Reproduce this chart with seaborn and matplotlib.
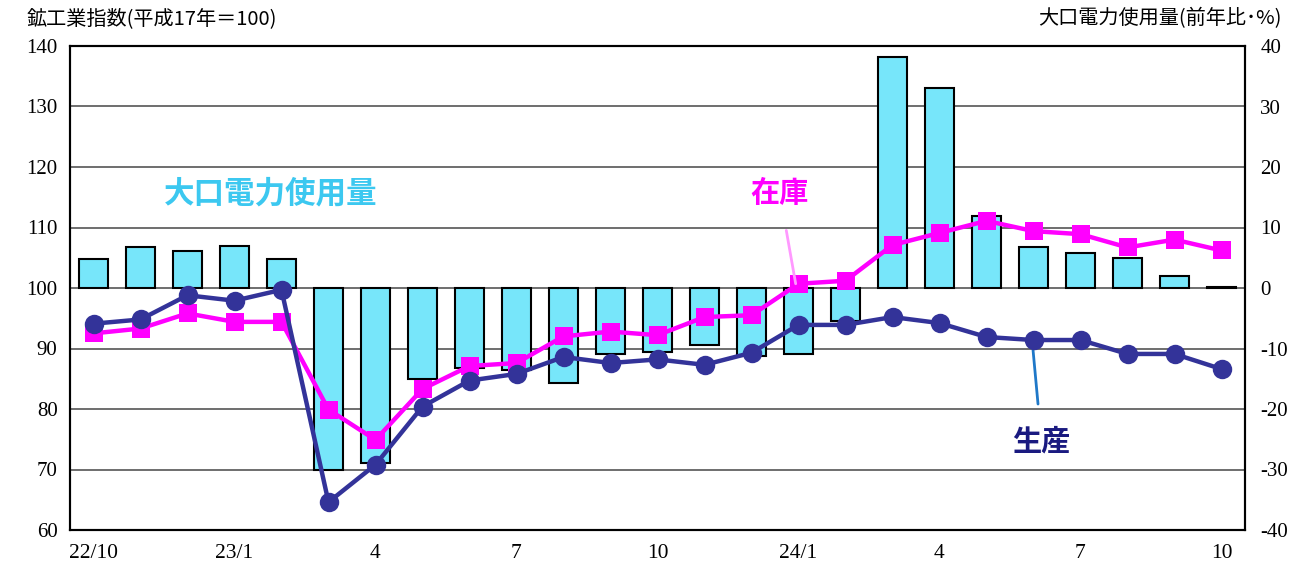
import matplotlib
matplotlib.use("Agg")
import matplotlib.pyplot as plt
import seaborn as sns
import pandas as pd
import numpy as np

months = ["22/10", "22/11", "22/12", "23/1", "23/2", "23/3", "23/4", "23/5", "23/6",
          "23/7", "23/8", "23/9", "23/10", "23/11", "23/12", "24/1", "24/2", "24/3",
          "24/4", "24/5", "24/6", "24/7", "24/8", "24/9", "24/10"]
tick_labels = ["22/10", "", "", "23/1", "", "", "4", "", "", "7", "", "", "10", "", "",
               "24/1", "", "", "4", "", "", "7", "", "", "10"]
electricity = [4.8, 6.8, 6.1, 6.9, 4.8, -30.1, -29.0, -15.1, -13.2, -13.6, -15.7, -10.9,
               -10.5, -9.4, -11.2, -10.9, -5.5, 38.1, 33.0, 11.9, 6.8, 5.8, 5.0, 2.0, 0.2]
production = [94.1, 94.8, 98.8, 97.9, 99.7, 64.6, 70.8, 80.4, 84.7, 85.8, 88.6, 87.6,
              88.2, 87.3, 89.3, 93.9, 93.9, 95.2, 94.2, 91.9, 91.4, 91.4, 89.1, 89.1, 86.6]
inventory = [92.5, 93.3, 95.8, 94.4, 94.4, 79.9, 74.9, 83.3, 87.1, 87.6, 92.0, 92.8,
             92.2, 95.2, 95.5, 100.7, 101.2, 107.1, 109.1, 111.1, 109.4, 108.9, 106.7, 108.0, 106.2]

df = pd.DataFrame({"month": months, "idx": np.arange(len(months)),
                   "electricity": electricity, "production": production,
                   "inventory": inventory})

sns.set_theme(style="white")
plt.rcParams['font.family'] = ['Noto Sans CJK JP', 'DejaVu Sans']
plt.rcParams['axes.unicode_minus'] = False
serif = ['Liberation Serif', 'DejaVu Serif']

fig = plt.figure(figsize=(13.09, 5.68), dpi=100)
ax = fig.add_axes([70/1309, 38/568, 1175/1309, 484/568])
ax2 = ax.twinx()

# bars on right axis (drawn underneath)
sns.barplot(data=df, x="idx", y="electricity", ax=ax2, color="#77E6FA",
            edgecolor="black", linewidth=1.5, width=0.6, saturation=1,
            native_scale=True)
ax2.set_ylim(-40, 40)
ax2.set_yticks(np.arange(-40, 41, 10))
ax2.yaxis.grid(True, color="#555555", linewidth=1.2)
ax2.set_axisbelow(True)
ax2.set_ylabel("")

# lines on left axis (on top)
ax.set_zorder(ax2.get_zorder() + 1)
ax.patch.set_visible(False)
sns.lineplot(data=df, x="idx", y="inventory", ax=ax, color="#FF00FF", linewidth=3.2,
             marker="s", markersize=13, markeredgewidth=0, zorder=3)
sns.lineplot(data=df, x="idx", y="production", ax=ax, color="#333399", linewidth=3.2,
             marker="o", markersize=14, markeredgewidth=0, zorder=4)
ax.set_ylim(60, 140)
ax.set_yticks(np.arange(60, 141, 10))
ax.set_xlim(-0.5, len(months) - 0.5)
ax.set_xticks(df["idx"])
ax.set_xticklabels(tick_labels)
ax.set_xlabel("")
ax.set_ylabel("")
ax.grid(False)

for a in (ax, ax2):
    for s in a.spines.values():
        s.set_color("black")
        s.set_linewidth(1.5)
    a.tick_params(length=0)

ax.tick_params(axis="y", pad=9)
ax.tick_params(axis="x", pad=10)
ax2.tick_params(axis="y", pad=11)
for lbl in ax.get_yticklabels() + ax2.get_yticklabels():
    lbl.set_family(serif)
    lbl.set_fontsize(15)
    lbl.set_color("black")
for lbl in ax.get_xticklabels():
    lbl.set_family(serif)
    lbl.set_fontsize(15.5)
    lbl.set_color("black")

# axis titles
fig.text(27/1309, 1 - 19/568, "鉱工業指数(平成17年＝100)", fontsize=14.5,
         ha="left", va="center", color="black")
fig.text(1282/1309, 1 - 19/568, "大口電力使用量(前年比･%)", fontsize=14.5,
         ha="right", va="center", color="black")

# series labels
ax.text(3.77, 115.7, "大口電力使用量", fontsize=22, fontweight="bold",
        color="#3CC8F0", ha="center", va="center")
ax.annotate("在庫", xy=(14.94, 100.7), xytext=(14.6, 115.7), fontsize=21,
            fontweight="bold", color="#FF00FF", ha="center", va="center",
            arrowprops=dict(arrowstyle="-", color="#FF99FF", lw=2,
                            shrinkA=14, shrinkB=0))
ax.annotate("生産", xy=(19.98, 90.6), xytext=(20.17, 74.6), fontsize=21,
            fontweight="bold", color="#1A1A80", ha="center", va="center",
            arrowprops=dict(arrowstyle="-", color="#1F78C8", lw=2,
                            shrinkA=14, shrinkB=0))

fig.savefig("out.png", dpi=100)
